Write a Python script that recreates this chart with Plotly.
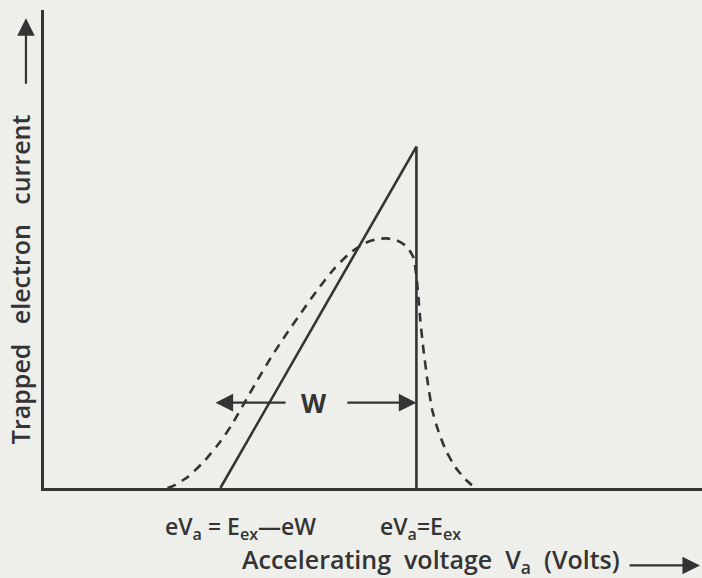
import plotly.graph_objects as go

# Idealised excitation threshold picture: sawtooth (ideal) and broadened (real) trapped-current curves
E_EX = 19.0          # excitation energy position on the voltage axis
W = 10.0             # trap well depth
PEAK = 10.0          # peak trapped current of the ideal curve

ideal_x = [E_EX - W, E_EX, E_EX]
ideal_y = [0.0, PEAK, 0.0]

real_x = [6.3, 6.6, 7.35, 8.2, 9.0, 9.6, 10.2, 10.9, 11.6, 12.4, 13.2, 14.0, 14.8,
          15.6, 16.4, 17.0, 17.5, 18.0, 18.5, 18.85, 19.0, 19.1, 19.2, 19.35, 19.55,
          19.8, 20.1, 20.5, 21.0, 21.5, 22.0]
real_y = [0.0, 0.06, 0.33, 0.8, 1.36, 1.87, 2.47, 3.17, 3.84, 4.54, 5.2, 5.84, 6.42,
          6.88, 7.18, 7.29, 7.31, 7.25, 7.08, 6.75, 6.2, 5.6, 4.9, 4.1, 3.2,
          2.3, 1.7, 1.1, 0.6, 0.25, 0.0]

X_MAX = 33.57
Y_MAX = 14.0

INK = "#343434"
BG = "#eeefeb"
FONT = "Open Sans"
SP2 = "\u00a0" * 2    # word gap of the horizontal title
SP3 = "\u00a0" * 3    # word gap of the vertical title

fig = go.Figure()
fig.add_trace(go.Scatter(x=real_x, y=real_y, mode="lines",
                         line=dict(color=INK, width=2.6, dash="9px,7px", shape="spline", smoothing=0.5),
                         hoverinfo="skip"))
fig.add_trace(go.Scatter(x=ideal_x, y=ideal_y, mode="lines",
                         line=dict(color=INK, width=2.6), hoverinfo="skip"))

arrow_style = dict(showarrow=True, arrowhead=2, arrowsize=1.6, arrowwidth=2.2, arrowcolor=INK, text="")
label_font = dict(family=FONT, size=25, color=INK, weight=600)

annotations = []
# width arrow W
w_level = 2.5
annotations.append(dict(x=E_EX - W - 0.25, y=w_level, ax=E_EX - W + 3.4, ay=w_level,
                        xref="x", yref="y", axref="x", ayref="y", **arrow_style))
annotations.append(dict(x=E_EX, y=w_level, ax=E_EX - 3.6, ay=w_level,
                        xref="x", yref="y", axref="x", ayref="y", **arrow_style))
annotations.append(dict(x=(2 * E_EX - W) / 2 - 0.2, y=w_level, xref="x", yref="y", text="W",
                        showarrow=False, font=dict(family=FONT, size=26, color=INK, weight=700)))

# threshold labels under the axis
annotations.append(dict(x=E_EX - W, y=0, xref="x", yref="y", xshift=20, yshift=-39,
                        text="eV<sub>a</sub> = E<sub>ex</sub>—eW", showarrow=False,
                        font=dict(family=FONT, size=23, color=INK, weight=600)))
annotations.append(dict(x=E_EX, y=0, xref="x", yref="y", xshift=4, yshift=-39,
                        text="eV<sub>a</sub>=E<sub>ex</sub>", showarrow=False,
                        font=dict(family=FONT, size=23, color=INK, weight=600)))

# axis titles with their arrows
annotations.append(dict(x=0.588, y=-0.195, xref="paper", yref="paper",
                        text=f"Accelerating{SP2}voltage{SP2}V<sub>a</sub>{SP2}(Volts)", showarrow=False,
                        font=label_font))
annotations.append(dict(x=0.997, y=-0.162, xref="paper", yref="paper", ax=-72, ay=0, **arrow_style))
annotations.append(dict(x=-0.066, y=0.436, xref="paper", yref="paper", textangle=-90,
                        text=f"Trapped{SP3}electron{SP3}current", showarrow=False,
                        font=label_font))
annotations.append(dict(x=-0.0274, y=0.983, xref="paper", yref="paper", ax=0, ay=67, **arrow_style))

axis_common = dict(showgrid=False, zeroline=False, showticklabels=False, ticks="",
                   showline=True, linecolor=INK, linewidth=2.6)

fig.update_layout(
    width=702, height=578,
    margin=dict(l=44, r=0, t=10, b=90),
    paper_bgcolor=BG, plot_bgcolor=BG,
    showlegend=False,
    xaxis=dict(range=[0, X_MAX], **axis_common),
    yaxis=dict(range=[0, Y_MAX], **axis_common),
    annotations=annotations,
)

fig.write_html("out.html", config=dict(displayModeBar=False))
